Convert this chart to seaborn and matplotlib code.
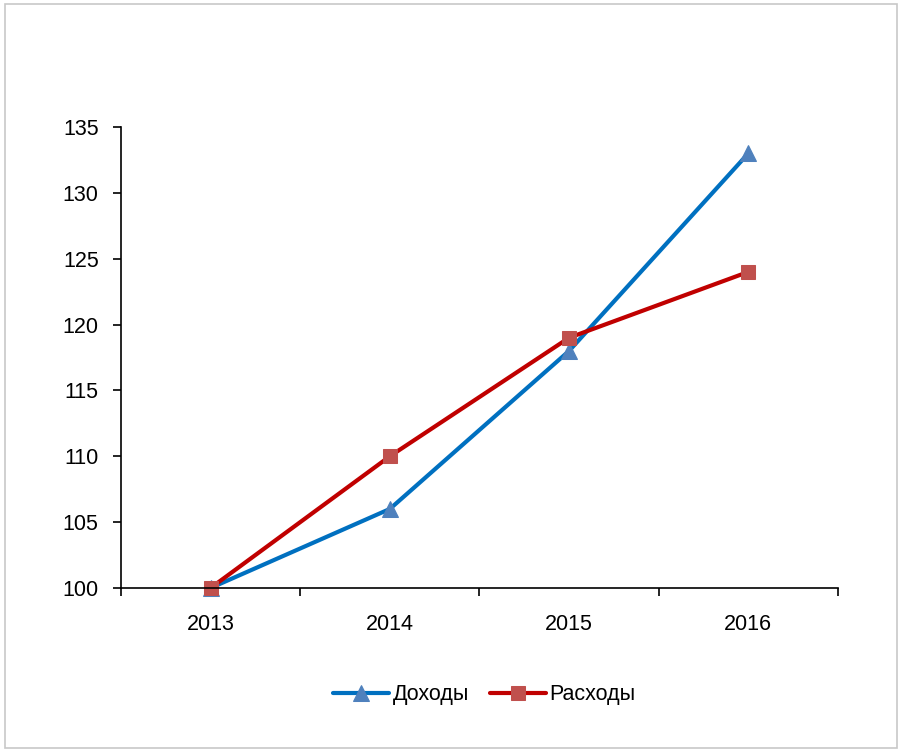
import numpy as np
import pandas as pd
import seaborn as sns
import matplotlib.pyplot as plt
from matplotlib.patches import Rectangle

years = ['2013', '2014', '2015', '2016']
dohody = [100, 106, 118, 133]
rashody = [100, 110, 119, 124]

sns.set_style('white')
plt.rcParams['font.family'] = ['Liberation Sans', 'DejaVu Sans']
plt.rcParams['text.color'] = 'black'
plt.rcParams['xtick.color'] = 'black'
plt.rcParams['ytick.color'] = 'black'

fig = plt.figure(figsize=(9.02, 7.52), dpi=100)
ax = fig.add_axes([0.1341, 0.2181, 0.7949, 0.6130])

x = np.arange(len(years))
sns.lineplot(x=x, y=dohody, ax=ax, color='#0070C0', linewidth=3,
             marker='^', markersize=12, markerfacecolor='#4F81BD',
             markeredgecolor='#4F81BD', label='Доходы', clip_on=False)
sns.lineplot(x=x, y=rashody, ax=ax, color='#C00000', linewidth=3,
             marker='s', markersize=10.5, markerfacecolor='#C0504D',
             markeredgecolor='#C0504D', label='Расходы', clip_on=False)

ax.set_xlim(-0.5, len(years) - 0.5)
ax.set_ylim(100, 135)
ax.set_yticks(range(100, 136, 5))
ax.set_xticks(np.arange(-0.5, len(years), 1.0))
ax.set_xticklabels([])
ax.set_xticks(x, minor=True)
ax.set_xticklabels(years, minor=True)
ax.tick_params(axis='x', which='major', direction='out', length=6, width=1.2,
               bottom=True)
ax.tick_params(axis='x', which='minor', length=0, pad=19, labelsize=15.5)
ax.tick_params(axis='y', direction='out', length=6, width=1.2,
               left=True, labelsize=15.5, pad=10)

for s in ['top', 'right']:
    ax.spines[s].set_visible(False)
for s in ['left', 'bottom']:
    ax.spines[s].set_color('black')
    ax.spines[s].set_linewidth(1.2)

ax.legend(loc='center', bbox_to_anchor=(0.507, -0.232), ncol=2, frameon=False,
          fontsize=15.5, handlelength=2.6, handletextpad=0.15, columnspacing=1.0)

fig.patches.append(Rectangle((0.006, 0.005), 0.988, 0.99, transform=fig.transFigure,
                             fill=False, edgecolor='#c8c8c8', linewidth=1.2))

fig.savefig('out.png', dpi=100)
